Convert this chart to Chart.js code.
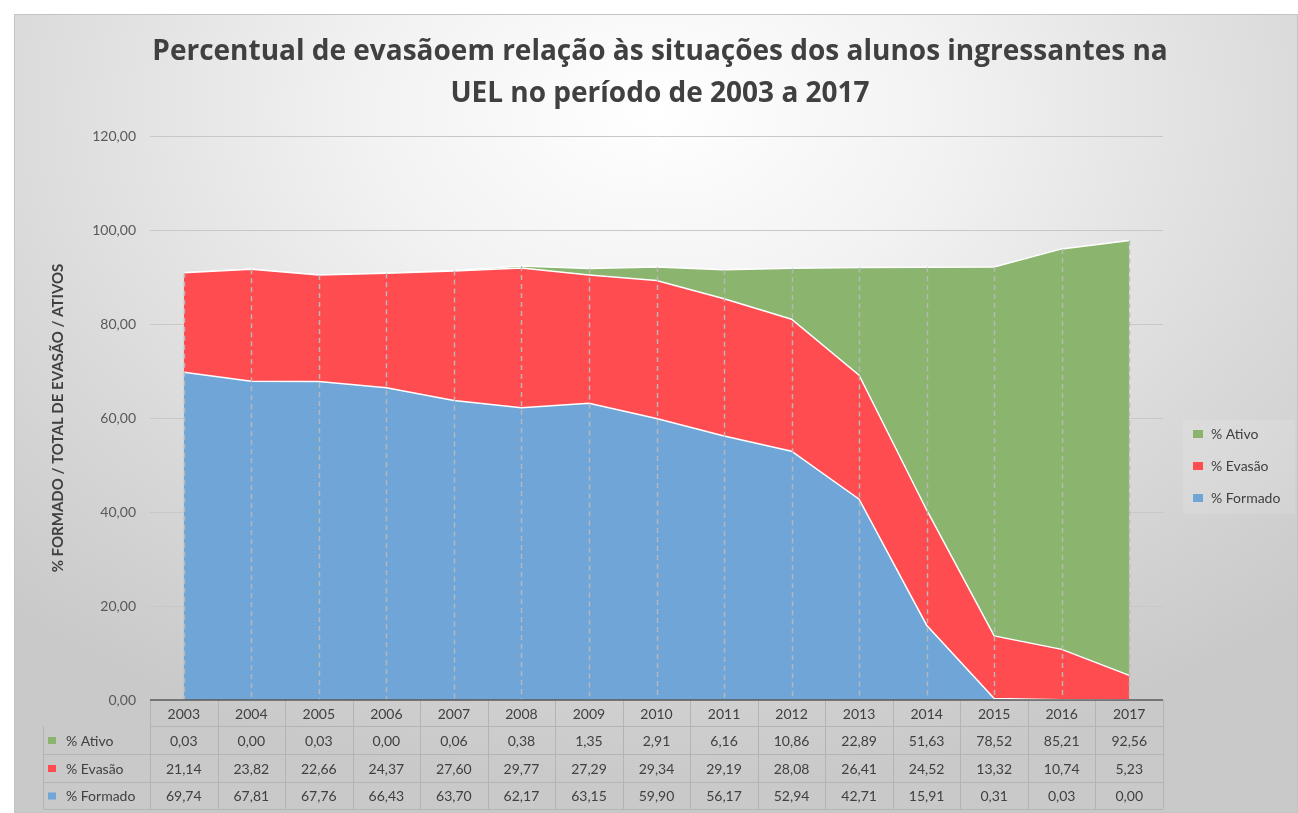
<!DOCTYPE html>
<html>
<head>
<meta charset="utf-8">
<script src="https://cdn.jsdelivr.net/npm/chart.js@4.4.1/dist/chart.umd.min.js"></script>
<style>
body{margin:0;background:#fff;}
#bg{position:absolute;left:14px;top:14px;width:1284px;height:799px;box-sizing:border-box;
	border:1px solid #c4c4c4;
	background:radial-gradient(ellipse 75% 85% at 50% 12%,#ffffff 0%,#f2f2f2 30%,#d9d9d9 70%,#c9c9c9 100%);}
#evasao{position:absolute;left:0;top:0;}
</style>
</head>
<body>
<div id="bg"></div>
<canvas id="evasao" width="1298" height="813"></canvas>
<script>
let anos = ['2003','2004','2005','2006','2007','2008','2009','2010','2011','2012','2013','2014','2015','2016','2017'];
let ativo = [0.03,0.00,0.03,0.00,0.06,0.38,1.35,2.91,6.16,10.86,22.89,51.63,78.52,85.21,92.56];
let evasao = [21.14,23.82,22.66,24.37,27.60,29.77,27.29,29.34,29.19,28.08,26.41,24.52,13.32,10.74,5.23];
let formado = [69.74,67.81,67.76,66.43,63.70,62.17,63.15,59.90,56.17,52.94,42.71,15.91,0.31,0.03,0.00];
let yTicks = [0,20,40,60,80,100,120];
let titulo = ['Percentual de evasãoem relação às situações dos alunos ingressantes na','UEL no período de 2003 a 2017'];

let fonte = 'Lato, "Open Sans", sans-serif';
let cinza = '#404040';
let num = v => v.toFixed(2).replace('.', ',');

// titulo centrado na caixa inteira
let cabecalho = {
	id:'cabecalho',
	beforeDraw:(chart)=>{
		let ctx = chart.ctx;
		ctx.save();
		ctx.font = 'bold 28px "Open Sans", Lato, sans-serif';
		ctx.fillStyle = cinza;
		ctx.textAlign = 'center';
		ctx.textBaseline = 'middle';
		ctx.fillText(titulo[0], 660, 52);
		ctx.fillText(titulo[1], 660, 94);
		ctx.restore();
	}
};

// tabela + legenda + linhas de queda
let tabela = {
	id:'tabela',
	afterDatasetsDraw:(chart)=>{
		let ctx = chart.ctx, x = chart.scales.x, y = chart.scales.y;
		ctx.save();
		ctx.strokeStyle = 'rgba(185,185,185,0.95)';
		ctx.lineWidth = 1.5;
		ctx.setLineDash([5,4]);
		for(let i=0;i<anos.length;i++){
			let px = Math.round(x.getPixelForValue(i))+0.5;
			let tot = ativo[i]+evasao[i]+formado[i];
			ctx.beginPath();
			ctx.moveTo(px,y.getPixelForValue(tot));
			ctx.lineTo(px,y.getPixelForValue(0));
			ctx.stroke();
		}
		ctx.restore();
	},
	afterDraw:(chart)=>{
		let ctx = chart.ctx, x = chart.scales.x, a = chart.chartArea;
		let colW = x.getPixelForValue(1)-x.getPixelForValue(0);
		let esq = 43;
		let linhas = [a.bottom, a.bottom+26, a.bottom+54, a.bottom+82, a.bottom+109];
		let series = [
			{nome:'% Ativo', dados:ativo, cor:chart.data.datasets[2].backgroundColor},
			{nome:'% Evasão', dados:evasao, cor:chart.data.datasets[1].backgroundColor},
			{nome:'% Formado', dados:formado, cor:chart.data.datasets[0].backgroundColor}
		];
		ctx.save();
		ctx.strokeStyle = '#b4b4b4';
		ctx.lineWidth = 1;
		// horizontais
		for(let k=1;k<linhas.length;k++){
			let l = k===1 ? a.left : esq;
			ctx.beginPath();
			ctx.moveTo(l, linhas[k]+0.5);
			ctx.lineTo(a.right, linhas[k]+0.5);
			ctx.stroke();
		}
		// verticais
		for(let i=0;i<=anos.length;i++){
			let px = Math.round(x.getPixelForValue(i)-colW/2)+0.5;
			ctx.beginPath();
			ctx.moveTo(px, linhas[0]);
			ctx.lineTo(px, linhas[4]);
			ctx.stroke();
		}
		ctx.beginPath();
		ctx.moveTo(esq+0.5, linhas[1]);
		ctx.lineTo(esq+0.5, linhas[4]);
		ctx.stroke();
		// eixo
		ctx.strokeStyle = '#5a5a5a';
		ctx.lineWidth = 1.5;
		ctx.beginPath();
		ctx.moveTo(a.left, a.bottom);
		ctx.lineTo(a.right, a.bottom);
		ctx.stroke();

		ctx.font = '14px '+fonte;
		ctx.fillStyle = cinza;
		ctx.textAlign = 'center';
		ctx.textBaseline = 'middle';
		anos.forEach((ano,i)=>{
			ctx.fillText(ano, x.getPixelForValue(i), (linhas[0]+linhas[1])/2+1);
		});
		series.forEach((s,r)=>{
			let cy = (linhas[r+1]+linhas[r+2])/2+1;
			ctx.textAlign = 'center';
			ctx.fillStyle = cinza;
			s.dados.forEach((v,i)=>{
				ctx.fillText(num(v), x.getPixelForValue(i), cy);
			});
			ctx.fillStyle = s.cor;
			ctx.fillRect(48, cy-4, 8, 7);
			ctx.fillStyle = cinza;
			ctx.textAlign = 'left';
			ctx.fillText(s.nome, 66, cy);
		});

		// legenda
		ctx.fillStyle = 'rgba(255,255,255,0.12)';
		ctx.fillRect(1183, 420, 112, 94);
		series.forEach((s,r)=>{
			let cy = 434+r*32;
			ctx.fillStyle = s.cor;
			ctx.fillRect(1193, cy-4, 10, 8);
			ctx.fillStyle = cinza;
			ctx.textAlign = 'left';
			ctx.fillText(s.nome, 1211, cy);
		});
		ctx.restore();
	}
};

let init = ()=>{
	new Chart(document.getElementById('evasao'), {
		type:'line',
		data:{
			labels:anos,
			datasets:[
				{label:'% Formado', data:formado, backgroundColor:'#6FA5D7', borderColor:'#ffffff', borderWidth:1.5, fill:'origin'},
				{label:'% Evasão', data:evasao, backgroundColor:'#FF4C50', borderColor:'#ffffff', borderWidth:1.5, fill:'-1'},
				{label:'% Ativo', data:ativo, backgroundColor:'#8BB56F', borderColor:'#ffffff', borderWidth:1.5, fill:'-1'}
			]
		},
		options:{
			responsive:false,
			animation:false,
			devicePixelRatio:1,
			elements:{point:{radius:0}, line:{tension:0}},
			layout:{padding:{left:40, right:135, top:136, bottom:113}},
			plugins:{
				legend:{display:false},
				tooltip:{enabled:false},
				title:{display:false}
			},
			scales:{
				x:{display:false, offset:true, stacked:true},
				y:{
					stacked:true,
					min:0, max:120,
					afterBuildTicks:s=>{ s.ticks = yTicks.map(v=>({value:v})); },
					afterFit:s=>{ s.width = 110; },
					ticks:{callback:v=>num(v), color:'#595959', font:{family:fonte, size:14}, padding:14},
					grid:{color:'#c8c8c8', drawTicks:false},
					border:{display:false},
					title:{
						display:true,
						text:'% FORMADO / TOTAL DE EVASÃO / ATIVOS',
						color:cinza,
						font:{family:fonte, size:15, weight:'bold'},
						padding:{top:9, bottom:0}
					}
				}
			}
		},
		plugins:[cabecalho, tabela]
	});
}
init();
</script>
</body>
</html>
